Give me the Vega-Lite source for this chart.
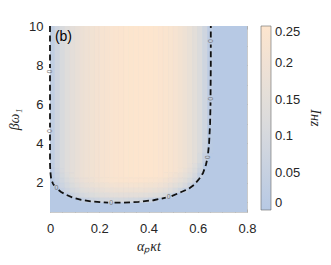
{
  "$schema": "https://vega.github.io/schema/vega-lite/v6.json",
  "width": 197,
  "height": 186,
  "autosize": {"type": "none"},
  "padding": {"left": 50, "top": 26, "right": 84, "bottom": 53},
  "background": "white",
  "config": {"view": {"stroke": null}, "font": "Liberation Sans"},
  "resolve": {"axis": {"x": "independent", "y": "independent"}},
  "datasets": {
    "base": [{"x":0,"X":0.8,"y":0.5,"Y":10,"v":0}],
    "cells": [
      {"x":0,"X":0.8,"y":0.5,"Y":10,"v":0},
      {"x":0,"X":0.02,"y":2,"Y":2.25,"v":0.012},
      {"x":0,"X":0.02,"y":2.25,"Y":2.5,"v":0.019},
      {"x":0,"X":0.02,"y":2.5,"Y":2.75,"v":0.023},
      {"x":0,"X":0.02,"y":2.75,"Y":3,"v":0.026},
      {"x":0,"X":0.02,"y":3,"Y":10,"v":0.03},
      {"x":0.02,"X":0.04,"y":1.75,"Y":2,"v":0.039},
      {"x":0.02,"X":0.04,"y":2,"Y":2.25,"v":0.054},
      {"x":0.02,"X":0.04,"y":2.25,"Y":2.5,"v":0.064},
      {"x":0.02,"X":0.04,"y":2.5,"Y":2.75,"v":0.073},
      {"x":0.02,"X":0.04,"y":2.75,"Y":10,"v":0.08},
      {"x":0.04,"X":0.06,"y":1.5,"Y":1.75,"v":0.046},
      {"x":0.04,"X":0.06,"y":1.75,"Y":2,"v":0.07},
      {"x":0.04,"X":0.06,"y":2,"Y":2.25,"v":0.085},
      {"x":0.04,"X":0.06,"y":2.25,"Y":2.5,"v":0.097},
      {"x":0.04,"X":0.06,"y":2.5,"Y":2.75,"v":0.108},
      {"x":0.04,"X":0.06,"y":2.75,"Y":10,"v":0.11},
      {"x":0.06,"X":0.08,"y":1.25,"Y":1.5,"v":0.023},
      {"x":0.06,"X":0.08,"y":1.5,"Y":1.75,"v":0.073},
      {"x":0.06,"X":0.08,"y":1.75,"Y":2,"v":0.096},
      {"x":0.06,"X":0.08,"y":2,"Y":2.25,"v":0.113},
      {"x":0.06,"X":0.08,"y":2.25,"Y":2.5,"v":0.126},
      {"x":0.06,"X":0.08,"y":2.5,"Y":10,"v":0.135},
      {"x":0.08,"X":0.1,"y":1.25,"Y":1.5,"v":0.062},
      {"x":0.08,"X":0.1,"y":1.5,"Y":1.75,"v":0.097},
      {"x":0.08,"X":0.1,"y":1.75,"Y":2,"v":0.119},
      {"x":0.08,"X":0.1,"y":2,"Y":2.25,"v":0.136},
      {"x":0.08,"X":0.1,"y":2.25,"Y":2.5,"v":0.151},
      {"x":0.08,"X":0.1,"y":2.5,"Y":10,"v":0.155},
      {"x":0.1,"X":0.12,"y":1.25,"Y":1.5,"v":0.082},
      {"x":0.1,"X":0.12,"y":1.5,"Y":1.75,"v":0.114},
      {"x":0.1,"X":0.12,"y":1.75,"Y":2,"v":0.137},
      {"x":0.1,"X":0.12,"y":2,"Y":2.25,"v":0.155},
      {"x":0.1,"X":0.12,"y":2.25,"Y":10,"v":0.17},
      {"x":0.12,"X":0.14,"y":1,"Y":1.25,"v":0.032},
      {"x":0.12,"X":0.14,"y":1.25,"Y":1.5,"v":0.1},
      {"x":0.12,"X":0.14,"y":1.5,"Y":1.75,"v":0.132},
      {"x":0.12,"X":0.14,"y":1.75,"Y":2,"v":0.154},
      {"x":0.12,"X":0.14,"y":2,"Y":2.25,"v":0.173},
      {"x":0.12,"X":0.14,"y":2.25,"Y":10,"v":0.185},
      {"x":0.14,"X":0.16,"y":1,"Y":1.25,"v":0.053},
      {"x":0.14,"X":0.16,"y":1.25,"Y":1.5,"v":0.112},
      {"x":0.14,"X":0.16,"y":1.5,"Y":1.75,"v":0.143},
      {"x":0.14,"X":0.16,"y":1.75,"Y":2,"v":0.166},
      {"x":0.14,"X":0.16,"y":2,"Y":2.25,"v":0.185},
      {"x":0.14,"X":0.16,"y":2.25,"Y":10,"v":0.196},
      {"x":0.16,"X":0.18,"y":1,"Y":1.25,"v":0.071},
      {"x":0.16,"X":0.18,"y":1.25,"Y":1.5,"v":0.123},
      {"x":0.16,"X":0.18,"y":1.5,"Y":1.75,"v":0.155},
      {"x":0.16,"X":0.18,"y":1.75,"Y":2,"v":0.178},
      {"x":0.16,"X":0.18,"y":2,"Y":2.25,"v":0.198},
      {"x":0.16,"X":0.18,"y":2.25,"Y":10,"v":0.206},
      {"x":0.18,"X":0.2,"y":1,"Y":1.25,"v":0.081},
      {"x":0.18,"X":0.2,"y":1.25,"Y":1.5,"v":0.132},
      {"x":0.18,"X":0.2,"y":1.5,"Y":1.75,"v":0.163},
      {"x":0.18,"X":0.2,"y":1.75,"Y":2,"v":0.188},
      {"x":0.18,"X":0.2,"y":2,"Y":2.25,"v":0.208},
      {"x":0.18,"X":0.2,"y":2.25,"Y":10,"v":0.215},
      {"x":0.2,"X":0.22,"y":1,"Y":1.25,"v":0.089},
      {"x":0.2,"X":0.22,"y":1.25,"Y":1.5,"v":0.139},
      {"x":0.2,"X":0.22,"y":1.5,"Y":1.75,"v":0.171},
      {"x":0.2,"X":0.22,"y":1.75,"Y":2,"v":0.195},
      {"x":0.2,"X":0.22,"y":2,"Y":2.25,"v":0.216},
      {"x":0.2,"X":0.22,"y":2.25,"Y":10,"v":0.222},
      {"x":0.22,"X":0.24,"y":1,"Y":1.25,"v":0.095},
      {"x":0.22,"X":0.24,"y":1.25,"Y":1.5,"v":0.145},
      {"x":0.22,"X":0.24,"y":1.5,"Y":1.75,"v":0.177},
      {"x":0.22,"X":0.24,"y":1.75,"Y":2,"v":0.202},
      {"x":0.22,"X":0.24,"y":2,"Y":2.25,"v":0.223},
      {"x":0.22,"X":0.24,"y":2.25,"Y":10,"v":0.228},
      {"x":0.24,"X":0.26,"y":1,"Y":1.25,"v":0.101},
      {"x":0.24,"X":0.26,"y":1.25,"Y":1.5,"v":0.15},
      {"x":0.24,"X":0.26,"y":1.5,"Y":1.75,"v":0.183},
      {"x":0.24,"X":0.26,"y":1.75,"Y":2,"v":0.208},
      {"x":0.24,"X":0.26,"y":2,"Y":2.25,"v":0.23},
      {"x":0.24,"X":0.26,"y":2.25,"Y":10,"v":0.234},
      {"x":0.26,"X":0.28,"y":1,"Y":1.25,"v":0.102},
      {"x":0.26,"X":0.28,"y":1.25,"Y":1.5,"v":0.152},
      {"x":0.26,"X":0.28,"y":1.5,"Y":1.75,"v":0.186},
      {"x":0.26,"X":0.28,"y":1.75,"Y":2,"v":0.212},
      {"x":0.26,"X":0.28,"y":2,"Y":2.25,"v":0.233},
      {"x":0.26,"X":0.28,"y":2.25,"Y":10,"v":0.238},
      {"x":0.28,"X":0.3,"y":1,"Y":1.25,"v":0.104},
      {"x":0.28,"X":0.3,"y":1.25,"Y":1.5,"v":0.155},
      {"x":0.28,"X":0.3,"y":1.5,"Y":1.75,"v":0.189},
      {"x":0.28,"X":0.3,"y":1.75,"Y":2,"v":0.215},
      {"x":0.28,"X":0.3,"y":2,"Y":2.25,"v":0.237},
      {"x":0.28,"X":0.3,"y":2.25,"Y":10,"v":0.242},
      {"x":0.3,"X":0.32,"y":1,"Y":1.25,"v":0.102},
      {"x":0.3,"X":0.32,"y":1.25,"Y":1.5,"v":0.155},
      {"x":0.3,"X":0.32,"y":1.5,"Y":1.75,"v":0.19},
      {"x":0.3,"X":0.32,"y":1.75,"Y":2,"v":0.217},
      {"x":0.3,"X":0.32,"y":2,"Y":2.25,"v":0.24},
      {"x":0.3,"X":0.32,"y":2.25,"Y":10,"v":0.245},
      {"x":0.32,"X":0.34,"y":1,"Y":1.25,"v":0.099},
      {"x":0.32,"X":0.34,"y":1.25,"Y":1.5,"v":0.155},
      {"x":0.32,"X":0.34,"y":1.5,"Y":1.75,"v":0.191},
      {"x":0.32,"X":0.34,"y":1.75,"Y":2,"v":0.218},
      {"x":0.32,"X":0.34,"y":2,"Y":2.25,"v":0.242},
      {"x":0.32,"X":0.34,"y":2.25,"Y":10,"v":0.248},
      {"x":0.34,"X":0.36,"y":1,"Y":1.25,"v":0.098},
      {"x":0.34,"X":0.36,"y":1.25,"Y":1.5,"v":0.155},
      {"x":0.34,"X":0.36,"y":1.5,"Y":1.75,"v":0.191},
      {"x":0.34,"X":0.36,"y":1.75,"Y":2,"v":0.219},
      {"x":0.34,"X":0.36,"y":2,"Y":2.25,"v":0.243},
      {"x":0.34,"X":0.36,"y":2.25,"Y":10,"v":0.25},
      {"x":0.36,"X":0.38,"y":1,"Y":1.25,"v":0.09},
      {"x":0.36,"X":0.38,"y":1.25,"Y":1.5,"v":0.151},
      {"x":0.36,"X":0.38,"y":1.5,"Y":1.75,"v":0.189},
      {"x":0.36,"X":0.38,"y":1.75,"Y":2,"v":0.217},
      {"x":0.36,"X":0.38,"y":2,"Y":2.25,"v":0.241},
      {"x":0.36,"X":0.38,"y":2.25,"Y":10,"v":0.25},
      {"x":0.38,"X":0.4,"y":1,"Y":1.25,"v":0.078},
      {"x":0.38,"X":0.4,"y":1.25,"Y":1.5,"v":0.146},
      {"x":0.38,"X":0.4,"y":1.5,"Y":1.75,"v":0.185},
      {"x":0.38,"X":0.4,"y":1.75,"Y":2,"v":0.214},
      {"x":0.38,"X":0.4,"y":2,"Y":2.25,"v":0.239},
      {"x":0.38,"X":0.4,"y":2.25,"Y":10,"v":0.25},
      {"x":0.4,"X":0.42,"y":1,"Y":1.25,"v":0.061},
      {"x":0.4,"X":0.42,"y":1.25,"Y":1.5,"v":0.14},
      {"x":0.4,"X":0.42,"y":1.5,"Y":1.75,"v":0.18},
      {"x":0.4,"X":0.42,"y":1.75,"Y":2,"v":0.21},
      {"x":0.4,"X":0.42,"y":2,"Y":2.25,"v":0.235},
      {"x":0.4,"X":0.42,"y":2.25,"Y":10,"v":0.249},
      {"x":0.42,"X":0.44,"y":1,"Y":1.25,"v":0.028},
      {"x":0.42,"X":0.44,"y":1.25,"Y":1.5,"v":0.132},
      {"x":0.42,"X":0.44,"y":1.5,"Y":1.75,"v":0.175},
      {"x":0.42,"X":0.44,"y":1.75,"Y":2,"v":0.205},
      {"x":0.42,"X":0.44,"y":2,"Y":2.25,"v":0.23},
      {"x":0.42,"X":0.44,"y":2.25,"Y":10,"v":0.247},
      {"x":0.44,"X":0.46,"y":1.25,"Y":1.5,"v":0.122},
      {"x":0.44,"X":0.46,"y":1.5,"Y":1.75,"v":0.166},
      {"x":0.44,"X":0.46,"y":1.75,"Y":2,"v":0.197},
      {"x":0.44,"X":0.46,"y":2,"Y":2.25,"v":0.223},
      {"x":0.44,"X":0.46,"y":2.25,"Y":10,"v":0.243},
      {"x":0.46,"X":0.48,"y":1.25,"Y":1.5,"v":0.105},
      {"x":0.46,"X":0.48,"y":1.5,"Y":1.75,"v":0.154},
      {"x":0.46,"X":0.48,"y":1.75,"Y":2,"v":0.187},
      {"x":0.46,"X":0.48,"y":2,"Y":2.25,"v":0.213},
      {"x":0.46,"X":0.48,"y":2.25,"Y":2.5,"v":0.234},
      {"x":0.46,"X":0.48,"y":2.5,"Y":10,"v":0.238},
      {"x":0.48,"X":0.5,"y":1.25,"Y":1.5,"v":0.076},
      {"x":0.48,"X":0.5,"y":1.5,"Y":1.75,"v":0.136},
      {"x":0.48,"X":0.5,"y":1.75,"Y":2,"v":0.172},
      {"x":0.48,"X":0.5,"y":2,"Y":2.25,"v":0.199},
      {"x":0.48,"X":0.5,"y":2.25,"Y":2.5,"v":0.221},
      {"x":0.48,"X":0.5,"y":2.5,"Y":10,"v":0.231},
      {"x":0.5,"X":0.52,"y":1.5,"Y":1.75,"v":0.113},
      {"x":0.5,"X":0.52,"y":1.75,"Y":2,"v":0.153},
      {"x":0.5,"X":0.52,"y":2,"Y":2.25,"v":0.181},
      {"x":0.5,"X":0.52,"y":2.25,"Y":2.5,"v":0.204},
      {"x":0.5,"X":0.52,"y":2.5,"Y":10,"v":0.222},
      {"x":0.52,"X":0.54,"y":1.5,"Y":1.75,"v":0.084},
      {"x":0.52,"X":0.54,"y":1.75,"Y":2,"v":0.132},
      {"x":0.52,"X":0.54,"y":2,"Y":2.25,"v":0.162},
      {"x":0.52,"X":0.54,"y":2.25,"Y":2.5,"v":0.185},
      {"x":0.52,"X":0.54,"y":2.5,"Y":2.75,"v":0.205},
      {"x":0.52,"X":0.54,"y":2.75,"Y":10,"v":0.21},
      {"x":0.54,"X":0.56,"y":1.5,"Y":1.75,"v":0.041},
      {"x":0.54,"X":0.56,"y":1.75,"Y":2,"v":0.108},
      {"x":0.54,"X":0.56,"y":2,"Y":2.25,"v":0.14},
      {"x":0.54,"X":0.56,"y":2.25,"Y":2.5,"v":0.164},
      {"x":0.54,"X":0.56,"y":2.5,"Y":2.75,"v":0.183},
      {"x":0.54,"X":0.56,"y":2.75,"Y":10,"v":0.195},
      {"x":0.56,"X":0.58,"y":1.75,"Y":2,"v":0.07},
      {"x":0.56,"X":0.58,"y":2,"Y":2.25,"v":0.11},
      {"x":0.56,"X":0.58,"y":2.25,"Y":2.5,"v":0.135},
      {"x":0.56,"X":0.58,"y":2.5,"Y":2.75,"v":0.154},
      {"x":0.56,"X":0.58,"y":2.75,"Y":3,"v":0.171},
      {"x":0.56,"X":0.58,"y":3,"Y":10,"v":0.175},
      {"x":0.58,"X":0.6,"y":2,"Y":2.25,"v":0.073},
      {"x":0.58,"X":0.6,"y":2.25,"Y":2.5,"v":0.101},
      {"x":0.58,"X":0.6,"y":2.5,"Y":2.75,"v":0.121},
      {"x":0.58,"X":0.6,"y":2.75,"Y":3,"v":0.136},
      {"x":0.58,"X":0.6,"y":3,"Y":10,"v":0.15},
      {"x":0.6,"X":0.62,"y":2.25,"Y":2.5,"v":0.04},
      {"x":0.6,"X":0.62,"y":2.5,"Y":2.75,"v":0.071},
      {"x":0.6,"X":0.62,"y":2.75,"Y":3,"v":0.089},
      {"x":0.6,"X":0.62,"y":3,"Y":3.5,"v":0.109},
      {"x":0.6,"X":0.62,"y":3.5,"Y":10,"v":0.12},
      {"x":0.62,"X":0.64,"y":3,"Y":3.5,"v":0.049},
      {"x":0.62,"X":0.64,"y":3.5,"Y":4,"v":0.07},
      {"x":0.62,"X":0.64,"y":4,"Y":10,"v":0.08},
      {"x":0.64,"X":0.66,"y":3.5,"Y":5,"v":0.008},
      {"x":0.64,"X":0.66,"y":5,"Y":10,"v":0.02}
    ],
    "contour": [
      {"s":1,"i":0,"x":0,"y":10},{"s":1,"i":1,"x":0,"y":7.85},
      {"s":2,"i":2,"x":0,"y":7.49},{"s":2,"i":3,"x":0,"y":4.82},
      {"s":3,"i":4,"x":0,"y":4.46},{"s":3,"i":5,"x":0,"y":3.0},{"s":3,"i":6,"x":0.001,"y":2.6},{"s":3,"i":7,"x":0.005,"y":2.15},{"s":3,"i":8,"x":0.012,"y":1.95},{"s":3,"i":9,"x":0.017,"y":1.85},
      {"s":4,"i":10,"x":0.035,"y":1.62},{"s":4,"i":11,"x":0.045,"y":1.52},{"s":4,"i":12,"x":0.066,"y":1.38},{"s":4,"i":13,"x":0.09,"y":1.25},{"s":4,"i":14,"x":0.127,"y":1.12},{"s":4,"i":15,"x":0.17,"y":1.04},{"s":4,"i":16,"x":0.21,"y":1.0},{"s":4,"i":17,"x":0.236,"y":0.98},
      {"s":5,"i":18,"x":0.262,"y":0.975},{"s":5,"i":19,"x":0.3,"y":0.98},{"s":5,"i":20,"x":0.36,"y":1.02},{"s":5,"i":21,"x":0.42,"y":1.1},{"s":5,"i":22,"x":0.47,"y":1.23},
      {"s":6,"i":23,"x":0.494,"y":1.31},{"s":6,"i":24,"x":0.533,"y":1.52},{"s":6,"i":25,"x":0.565,"y":1.7},{"s":6,"i":26,"x":0.588,"y":1.92},{"s":6,"i":27,"x":0.606,"y":2.2},{"s":6,"i":28,"x":0.621,"y":2.48},{"s":6,"i":29,"x":0.633,"y":2.9},{"s":6,"i":30,"x":0.637,"y":3.12},
      {"s":7,"i":31,"x":0.642,"y":3.5},{"s":7,"i":32,"x":0.646,"y":4.0},{"s":7,"i":33,"x":0.65,"y":5.0},{"s":7,"i":34,"x":0.652,"y":6.1},
      {"s":8,"i":35,"x":0.652,"y":6.46},{"s":8,"i":36,"x":0.653,"y":8},{"s":8,"i":37,"x":0.653,"y":9.05},
      {"s":9,"i":38,"x":0.653,"y":9.41},{"s":9,"i":39,"x":0.653,"y":10}
    ],
    "labv": [
      {"t":"0","x":0,"y":7.67},{"t":"0","x":0,"y":4.64},{"t":"0","x":0.64,"y":3.3},{"t":"0","x":0.652,"y":6.28},{"t":"0","x":0.653,"y":9.23}
    ],
    "labo": [
      {"t":"0","x":0.026,"y":1.72},{"t":"0","x":0.249,"y":0.97},{"t":"0","x":0.482,"y":1.27}
    ],
    "panel": [{"t":"(b)","x":0.02,"y":9.45}]
  },
  "layer": [
    {
      "data": {"name": "base"},
      "mark": {"type": "rect", "clip": true},
      "encoding": {
        "x": {"field": "x", "type": "quantitative",
          "scale": {"domain": [0, 0.8], "nice": false, "zero": false},
          "axis": {"orient": "bottom", "values": [0,0.05,0.1,0.15,0.2,0.25,0.3,0.35,0.4,0.45,0.5,0.55,0.6,0.65,0.7,0.75,0.8],
            "format": ".1~f", "labelExpr": "abs(datum.value*5-round(datum.value*5))<0.001 ? datum.label : ''",
            "labelOverlap": false, "labelFlush": false, "grid": false,
            "tickSize": -3, "tickColor": "#8a8a8a", "tickWidth": 0.6,
            "domainColor": "#a8a8a8", "domainWidth": 0.6,
            "labelFont": "Liberation Sans", "labelFontSize": 13, "labelColor": "#262626", "labelPadding": 13,
            "title": "αₚκt", "titleFont": "Liberation Serif", "titleFontStyle": "italic", "titleFontWeight": "normal",
            "titleFontSize": 14, "titleColor": "#262626", "titlePadding": 4}},
        "x2": {"field": "X"},
        "y": {"field": "y", "type": "quantitative",
          "scale": {"domain": [0.5, 10], "nice": false, "zero": false},
          "axis": {"orient": "left", "values": [1,2,3,4,5,6,7,8,9,10],
            "format": "d", "labelExpr": "datum.value % 2 == 0 ? datum.label : ''",
            "labelOverlap": false, "labelFlush": false, "grid": false,
            "tickSize": -3, "tickColor": "#8a8a8a", "tickWidth": 0.6,
            "domainColor": "#a8a8a8", "domainWidth": 0.6,
            "labelFont": "Liberation Sans", "labelFontSize": 13, "labelColor": "#262626", "labelPadding": 10,
            "title": "βω₁", "titleFont": "Liberation Serif", "titleFontStyle": "italic", "titleFontWeight": "normal",
            "titleFontSize": 14, "titleColor": "#262626", "titlePadding": 7}},
        "y2": {"field": "Y"},
        "color": {"field": "v", "type": "quantitative",
          "scale": {"domain": [0, 0.125, 0.25], "range": ["#b7c9e4", "#dcdcdc", "#fde5ce"], "interpolate": "rgb"},
          "legend": {"type": "gradient", "direction": "vertical", "title": "Iʜᴢ", "orient": "right", "offset": 13, "padding": 0,
            "gradientLength": 184, "gradientThickness": 10, "gradientStrokeColor": "#666", "gradientStrokeWidth": 0.6,
            "values": [0, 0.05, 0.1, 0.15, 0.2, 0.25],
            "labelExpr": "format(datum.value, '.2~f')",
            "labelFont": "Liberation Sans", "labelFontSize": 13, "labelColor": "#262626", "labelOffset": 4,
            "titleOrient": "right", "titleAngle": 90, "titleAnchor": "middle", "titlePadding": 8,
            "titleFont": "Liberation Serif", "titleFontStyle": "italic", "titleFontWeight": "normal", "titleFontSize": 14, "titleColor": "#262626"}}
      }
    },
    {
      "data": {"name": "cells"},
      "mark": {"type": "rect", "strokeWidth": 0.6, "clip": true},
      "encoding": {
        "x": {"field": "x", "type": "quantitative", "axis": null},
        "x2": {"field": "X"},
        "y": {"field": "y", "type": "quantitative", "axis": null},
        "y2": {"field": "Y"},
        "fill": {"field": "v", "type": "quantitative",
          "scale": {"domain": [0, 0.125, 0.25001], "range": ["#b7c9e4", "#dcdcdc", "#fde5ce"], "interpolate": "rgb"},
          "legend": null},
        "stroke": {"field": "v", "type": "quantitative",
          "scale": {"domain": [0, 0.125, 0.25002], "range": ["#b7c9e4", "#dcdcdc", "#fde5ce"], "interpolate": "rgb"},
          "legend": null}
      }
    },
    {
      "data": {"name": "contour"},
      "mark": {"type": "line", "color": "#111111", "strokeWidth": 1.8, "strokeDash": [6, 3.5], "clip": false},
      "encoding": {
        "x": {"field": "x", "type": "quantitative",
          "axis": {"orient": "top", "values": [0,0.05,0.1,0.15,0.2,0.25,0.3,0.35,0.4,0.45,0.5,0.55,0.6,0.65,0.7,0.75,0.8],
            "labels": false, "title": null, "grid": false,
            "tickSize": -3, "tickColor": "#8a8a8a", "tickWidth": 0.6, "domainColor": "#a8a8a8", "domainWidth": 0.6}},
        "y": {"field": "y", "type": "quantitative",
          "axis": {"orient": "right", "values": [1,2,3,4,5,6,7,8,9,10],
            "labels": false, "title": null, "grid": false,
            "tickSize": -3, "tickColor": "#8a8a8a", "tickWidth": 0.6, "domainColor": "#a8a8a8", "domainWidth": 0.6}},
        "detail": {"field": "s"},
        "order": {"field": "i"}
      }
    },
    {
      "data": {"name": "labv"},
      "mark": {"type": "text", "fontSize": 7, "color": "#777777", "angle": 270, "align": "center", "baseline": "middle"},
      "encoding": {
        "x": {"field": "x", "type": "quantitative", "axis": null},
        "y": {"field": "y", "type": "quantitative", "axis": null},
        "text": {"field": "t"}
      }
    },
    {
      "data": {"name": "labo"},
      "mark": {"type": "text", "fontSize": 7, "color": "#777777", "align": "center", "baseline": "middle"},
      "encoding": {
        "x": {"field": "x", "type": "quantitative", "axis": null},
        "y": {"field": "y", "type": "quantitative", "axis": null},
        "text": {"field": "t"}
      }
    },
    {
      "data": {"name": "panel"},
      "mark": {"type": "text", "fontSize": 14, "color": "#000000", "align": "left", "baseline": "middle", "font": "Liberation Sans"},
      "encoding": {
        "x": {"field": "x", "type": "quantitative", "axis": null},
        "y": {"field": "y", "type": "quantitative", "axis": null},
        "text": {"field": "t"}
      }
    }
  ]
}
